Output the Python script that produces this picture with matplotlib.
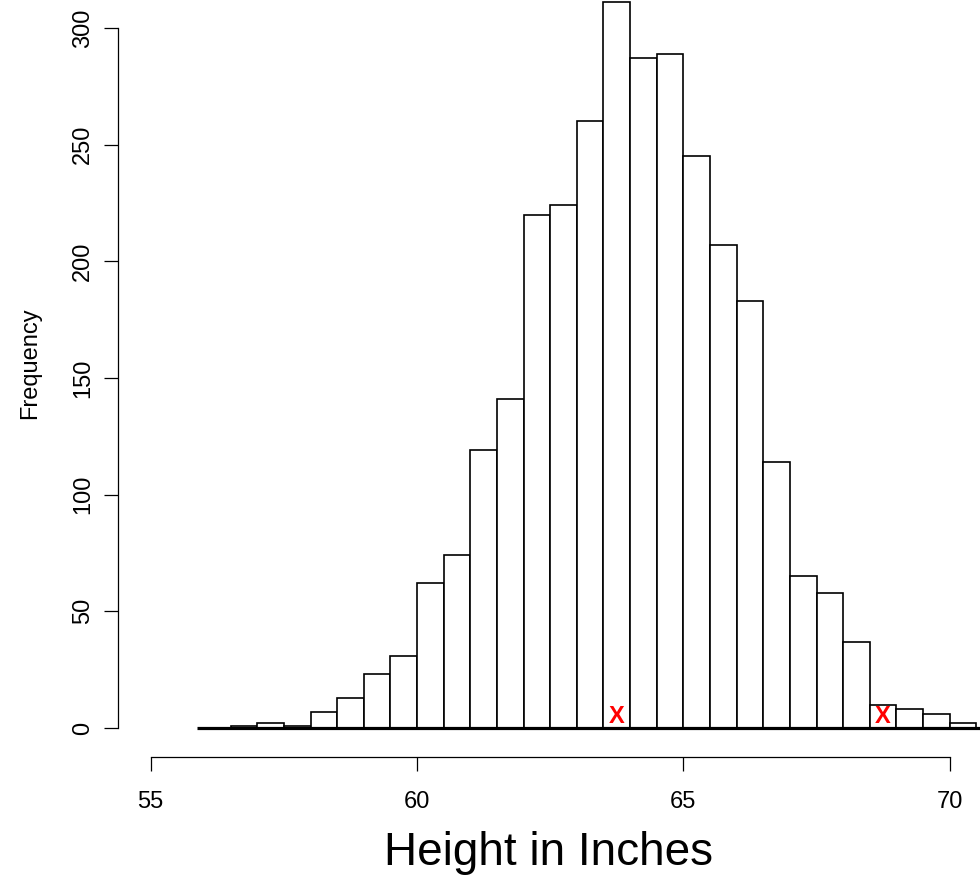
"""Histogram of heights (R base-graphics look) -> out.png"""

import numpy as np
import matplotlib
matplotlib.use("Agg")
import matplotlib.pyplot as plt

plt.rcParams["font.family"] = ["Liberation Sans", "DejaVu Sans"]

# histogram data: half-inch bins starting at 56.0
BIN_START = 56.0
BIN_WIDTH = 0.5
counts = [0, 1, 2, 1, 7, 13, 23, 31,
          62, 74, 119, 141, 220, 224, 260, 311,
          287, 289, 245, 207, 183, 114, 65, 58,
          37, 10, 8, 6, 2]

# red "X" marks drawn on two bins
mark_x = [63.75, 68.75]
mark_y = [5, 5]

xticks = [55, 60, 65, 70]
yticks = [0, 50, 100, 150, 200, 250, 300]

edges = BIN_START + BIN_WIDTH * np.arange(len(counts))

fig = plt.figure(figsize=(9.8, 8.82), dpi=100)
ax = fig.add_axes([0, 0, 1, 1])
ax.set_xlim(52.171, 70.568)
ax.set_ylim(-66.0, 312.0)

ax.bar(edges, counts, width=BIN_WIDTH, align="edge",
       facecolor="white", edgecolor="black", linewidth=1.2, zorder=2)
ax.hlines(0, 55.86, 70.7, color="black", linewidth=2.3, zorder=3)

for x, y in zip(mark_x, mark_y):
    ax.text(x, y, "X", color="red", fontsize=17, fontweight="bold",
            ha="center", va="center", zorder=4)

# R-style detached axes
for side in ("top", "right"):
    ax.spines[side].set_visible(False)
ax.spines["left"].set_position(("data", 54.38))
ax.spines["left"].set_bounds(0, 300)
ax.spines["bottom"].set_position(("data", -12.56))
ax.spines["bottom"].set_bounds(55, 70)
for side in ("left", "bottom"):
    ax.spines[side].set_linewidth(0.9)

ax.set_xticks(xticks)
ax.set_yticks(yticks)
ax.tick_params(direction="out", length=10, width=0.9, labelsize=17)
ax.tick_params(axis="x", pad=14.4)
ax.tick_params(axis="y", pad=6.9)
plt.setp(ax.get_yticklabels(), rotation=90, va="center")

ax.set_xlabel("Height in Inches", fontsize=33)
ax.xaxis.set_label_coords(548 / 980, 1 - 865 / 882)
ax.xaxis.label.set_va("baseline")
ax.set_ylabel("Frequency", fontsize=17)
ax.yaxis.set_label_coords(30 / 980, 1 - 363 / 882)
ax.yaxis.label.set_va("center")

fig.savefig("out.png", dpi=100)
